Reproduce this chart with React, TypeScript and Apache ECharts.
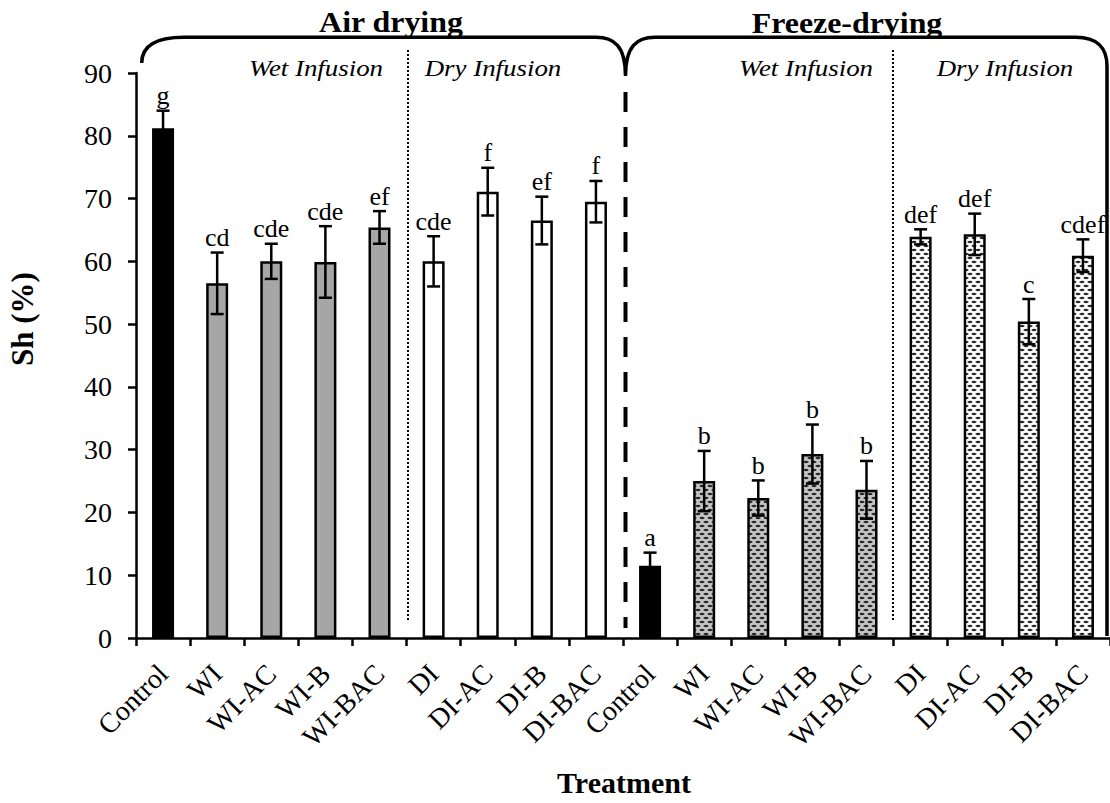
import React, { useEffect, useRef } from "react";
import * as echarts from "echarts";

const FONT = "Liberation Serif, serif";

const categories = [
  "Control", "WI", "WI-AC", "WI-B", "WI-BAC", "DI", "DI-AC", "DI-B", "DI-BAC",
  "Control", "WI", "WI-AC", "WI-B", "WI-BAC", "DI", "DI-AC", "DI-B", "DI-BAC",
];
const airMean = [81.2, 56.5, 60.0, 59.9, 65.4, 60.0, 71.1, 66.5, 69.5];
const airErr = [2.8, 4.9, 2.8, 5.7, 2.6, 4.0, 3.8, 3.8, 3.3];
const freezeMean = [11.5, 25.0, 22.3, 29.3, 23.6, 63.9, 64.3, 50.4, 60.9];
const freezeErr = [2.1, 4.8, 2.8, 4.7, 4.6, 1.2, 3.3, 3.6, 2.6];
const airLetters = ["g", "cd", "cde", "cde", "ef", "cde", "f", "ef", "f"];
const freezeLetters = ["a", "b", "b", "b", "b", "def", "def", "c", "cdef"];
const fillKinds = [
  "black", "gray", "gray", "gray", "gray", "white", "white", "white", "white",
  "black", "patGray", "patGray", "patGray", "patGray", "patWhite", "patWhite", "patWhite", "patWhite",
];
const yTicks = { min: 0, max: 90, interval: 10 };

function makePattern(bg: string): HTMLCanvasElement {
  const c = document.createElement("canvas");
  c.width = 8;
  c.height = 8;
  const ctx = c.getContext("2d")!;
  ctx.fillStyle = bg;
  ctx.fillRect(0, 0, 8, 8);
  ctx.fillStyle = "#262626";
  const dash = (x: number, y: number) => {
    ctx.beginPath();
    ctx.ellipse(x, y, 2.5, 1.15, 0, 0, Math.PI * 2);
    ctx.fill();
  };
  dash(2, 2);
  dash(6, 6);
  dash(-2, 6);
  dash(10, 2);
  return c;
}

export default function App() {
  const ref = useRef<HTMLDivElement>(null);
  useEffect(() => {
    if (!ref.current) return;
    const chart = echarts.init(ref.current, undefined, { renderer: "svg" });

    const patGray = makePattern("#c4c4c4");
    const patWhite = makePattern("#ffffff");
    const means = [...airMean, ...freezeMean];
    const errs = [...airErr, ...freezeErr];
    const letters = [...airLetters, ...freezeLetters];

    const styleFor = (k: string) => {
      const base = { borderColor: "#000", borderWidth: 2.5 };
      if (k === "black") return { ...base, color: "#000" };
      if (k === "gray") return { ...base, color: "#a6a6a6" };
      if (k === "white") return { ...base, color: "#fff" };
      if (k === "patGray") return { ...base, color: { image: patGray, repeat: "repeat" } };
      return { ...base, color: { image: patWhite, repeat: "repeat" } };
    };

    const d =
      "M141.7 63 C141.7 46 156 37.3 184 37.3 L596 37.3 C614 37.3 625.5 46 625.5 76 " +
      "M625.5 76 C625.5 46 637 37.3 655 37.3 L1076 37.3 C1096 37.3 1107 47 1107 66 L1107 636";
    echarts.graphic.registerShape("bracket", echarts.graphic.extendPath(d, {}) as any);

    const headerText = (text: string, x: number, y: number, size: number, weight: string, style: string, sx: number) => ({
      type: "text",
      x,
      y,
      scaleX: sx,
      silent: true,
      style: {
        text,
        fontSize: size,
        fontWeight: weight,
        fontStyle: style,
        fontFamily: FONT,
        fill: "#000",
        align: "center",
        textAlign: "center",
        verticalAlign: "middle",
        textVerticalAlign: "middle",
      },
    });

    chart.setOption({
      animation: false,
      backgroundColor: "#fff",
      textStyle: { fontFamily: FONT },
      grid: { left: 136, right: -4, top: 73, bottom: 165, containLabel: false },
      xAxis: {
        type: "category",
        data: categories,
        axisLine: { lineStyle: { color: "#000", width: 2.5 } },
        axisTick: { show: true, interval: 0, length: 8, lineStyle: { color: "#000", width: 2.5 } },
        axisLabel: {
          interval: 0,
          rotate: 45,
          margin: 31,
          fontSize: 28,
          fontFamily: FONT,
          color: "#000",
        },
      },
      yAxis: {
        type: "value",
        min: yTicks.min,
        max: yTicks.max,
        interval: yTicks.interval,
        axisLine: { show: true, lineStyle: { color: "#000", width: 2.5 } },
        axisTick: { show: true, length: 8, lineStyle: { color: "#000", width: 2.5 } },
        splitLine: { show: false },
        axisLabel: { fontSize: 28, fontFamily: FONT, color: "#000", margin: 24 },
      },
      series: [
        {
          type: "bar",
          barWidth: 22,
          data: means.map((v, i) => ({ value: v, itemStyle: styleFor(fillKinds[i]) })),
          z: 2,
        },
        {
          type: "custom",
          z: 10,
          data: means.map((v, i) => [i, v, errs[i]]),
          encode: { x: 0, y: 1 },
          renderItem: (params: any, api: any) => {
            const idx = api.value(0);
            const m = api.value(1);
            const e = api.value(2);
            const top = api.coord([idx, m + e]);
            const bot = api.coord([idx, m - e]);
            const cx = top[0];
            const half = 6.5;
            const ls = { stroke: "#000", lineWidth: 2.5 };
            return {
              type: "group",
              children: [
                { type: "line", shape: { x1: cx, y1: top[1], x2: cx, y2: bot[1] }, style: ls },
                { type: "line", shape: { x1: cx - half, y1: top[1], x2: cx + half, y2: top[1] }, style: ls },
                { type: "line", shape: { x1: cx - half, y1: bot[1], x2: cx + half, y2: bot[1] }, style: ls },
                {
                  type: "text",
                  style: {
                    text: letters[params.dataIndex],
                    x: cx,
                    y: top[1] - 2,
                    align: "center",
                    verticalAlign: "bottom",
                    fontSize: 26,
                    fontFamily: FONT,
                    fill: "#000",
                  },
                },
              ],
            };
          },
        },
      ],
      graphic: [
        { type: "bracket", silent: true, style: { stroke: "#000", lineWidth: 3.5, fill: "none" } },
        {
          type: "line",
          silent: true,
          shape: { x1: 625.5, y1: 92, x2: 625.5, y2: 628 },
          style: { stroke: "#000", lineWidth: 4, lineDash: [20, 15] },
        },
        {
          type: "line",
          silent: true,
          shape: { x1: 408, y1: 50, x2: 408, y2: 620 },
          style: { stroke: "#000", lineWidth: 2, lineDash: [2, 2] },
        },
        {
          type: "line",
          silent: true,
          shape: { x1: 893, y1: 50, x2: 893, y2: 620 },
          style: { stroke: "#000", lineWidth: 2, lineDash: [2, 2] },
        },
        headerText("Air drying", 391, 22, 29, "bold", "normal", 1.1),
        headerText("Freeze-drying", 847, 23, 29, "bold", "normal", 1.1),
        headerText("Wet Infusion", 316, 68, 24, "normal", "italic", 1.12),
        headerText("Dry Infusion", 493, 68, 24, "normal", "italic", 1.12),
        headerText("Wet Infusion", 806, 68, 24, "normal", "italic", 1.12),
        headerText("Dry Infusion", 1005, 68, 24, "normal", "italic", 1.12),
        headerText("Treatment", 624, 782, 30, "bold", "normal", 1),
        {
          type: "text",
          x: 22,
          y: 319,
          rotation: Math.PI / 2,
          silent: true,
          style: {
            text: "Sh (%)",
            fontSize: 31,
            fontWeight: "bold",
            fontFamily: FONT,
            fill: "#000",
            align: "center",
            textAlign: "center",
            verticalAlign: "middle",
            textVerticalAlign: "middle",
          },
        },
      ],
    });

    return () => chart.dispose();
  }, []);

  return (
    <div
      ref={ref}
      style={{ position: "fixed", left: 0, top: 0, width: 1110, height: 803, background: "#fff" }}
    />
  );
}
